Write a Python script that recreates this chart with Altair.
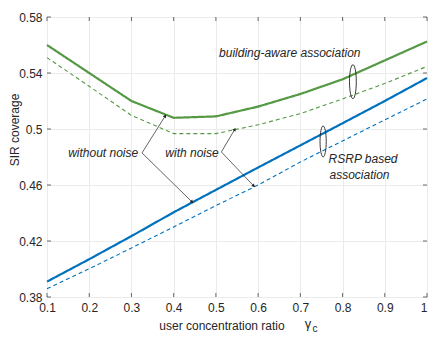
import math
import altair as alt
import pandas as pd

# ---- data ----
gamma_c = [0.1, 0.2, 0.3, 0.4, 0.5, 0.6, 0.7, 0.8, 0.9, 1.0]
bldg_no_noise = [0.560, 0.540, 0.520, 0.508, 0.509, 0.516, 0.525, 0.5355, 0.549, 0.5625]
bldg_noise = [0.551, 0.5305, 0.5097, 0.4967, 0.4967, 0.503, 0.511, 0.5215, 0.5325, 0.5447]
rsrp_no_noise = [0.391, 0.407, 0.4235, 0.4405, 0.4565, 0.4725, 0.4883, 0.5041, 0.520, 0.5364]
rsrp_noise = [0.3859, 0.4002, 0.415, 0.430, 0.4453, 0.460, 0.4764, 0.4915, 0.5065, 0.5215]

x_ticks = [0.1, 0.2, 0.3, 0.4, 0.5, 0.6, 0.7, 0.8, 0.9, 1.0]
y_ticks = [0.38, 0.42, 0.46, 0.5, 0.54, 0.58]

series_names = ["bldg_solid", "bldg_dash", "rsrp_solid", "rsrp_dash"]
series_vals = [bldg_no_noise, bldg_noise, rsrp_no_noise, rsrp_noise]
series_color = ["#559944", "#559944", "#0072BD", "#0072BD"]
series_dash = ["solid", "dash", "solid", "dash"]

rows = []
for name, vals, dash in zip(series_names, series_vals, series_dash):
    for xv, yv in zip(gamma_c, vals):
        rows.append({"x": xv, "y": yv, "series": name, "dash": dash})
lines_df = pd.DataFrame(rows)

# annotations (data coordinates)
arrow_vertex = [(0.325, 0.4829), (0.325, 0.4829), (0.513, 0.4836), (0.513, 0.4836)]
arrow_tip = [(0.380, 0.5093), (0.4436, 0.4479), (0.5446, 0.4997), (0.5896, 0.4593)]

texts = ["building-aware association", "without noise", "with noise", "RSRP based", "association"]
text_x = [0.675, 0.316, 0.5066, 0.767, 0.769]
text_y = [0.5545, 0.4831, 0.4831, 0.4788, 0.4674]
text_align = ["center", "right", "right", "left", "left"]

ellipse_x = [0.8245, 0.754]
ellipse_y = [0.5338, 0.4911]
ellipse_half_px = [17, 15.5]

# ---- build ----
W, H = 380, 280
xs = alt.Scale(domain=[0.1, 1.0], nice=False)
ys = alt.Scale(domain=[0.38, 0.58], nice=False, zero=False)
txt = "#262626"
font = "Liberation Sans"

x_axis = alt.Axis(values=x_ticks, format=".1~f", title=None, grid=True, ticks=False, domain=False,
                  labelPadding=5, labelFlush=False,
                  labelAlign={"condition": {"test": "datum.value >= 0.99", "value": "right"}, "value": "center"})
y_axis = alt.Axis(values=y_ticks, format=".2~f", title=None, grid=True, ticks=False, domain=False,
                  labelPadding=5)

lines = alt.Chart(lines_df).mark_line().encode(
    x=alt.X("x:Q", scale=xs, axis=x_axis),
    y=alt.Y("y:Q", scale=ys, axis=y_axis),
    color=alt.Color("series:N", scale=alt.Scale(domain=series_names, range=series_color), legend=None),
    strokeDash=alt.StrokeDash("dash:N", scale=alt.Scale(domain=["solid", "dash"], range=[[1, 0], [4, 3]]), legend=None),
    strokeWidth=alt.StrokeWidth("dash:N", scale=alt.Scale(domain=["solid", "dash"], range=[2.2, 1.1]), legend=None),
    detail="series:N",
)

px_per_x = W / 0.9
px_per_y = H / 0.2
arrow_rows = []
for (x1, y1), (x2, y2) in zip(arrow_vertex, arrow_tip):
    dx = (x2 - x1) * px_per_x
    dy = -(y2 - y1) * px_per_y
    ang = math.degrees(math.atan2(dx, -dy)) % 360
    arrow_rows.append({"x1": x1, "y1": y1, "x2": x2, "y2": y2, "ang": ang})
arrow_df = pd.DataFrame(arrow_rows)

arrows = alt.Chart(arrow_df).mark_rule(color="#222222", strokeWidth=0.7).encode(
    x=alt.X("x1:Q", scale=xs, axis=x_axis), y=alt.Y("y1:Q", scale=ys, axis=y_axis),
    x2="x2:Q", y2="y2:Q",
)
heads = alt.Chart(arrow_df).mark_point(shape="triangle-up", filled=True, color="#222222", size=14, opacity=1).encode(
    x=alt.X("x2:Q", scale=xs, axis=x_axis), y=alt.Y("y2:Q", scale=ys, axis=y_axis),
    angle=alt.Angle("ang:Q", scale=None),
)

ell_df = pd.DataFrame({"x": ellipse_x, "y": ellipse_y, "s": [(2 * h) ** 2 for h in ellipse_half_px]})
ellipses = alt.Chart(ell_df).mark_point(
    shape="M0,-1A0.2,1,0,1,1,0,1A0.2,1,0,1,1,0,-1Z", filled=False, color="#222222",
    strokeWidth=0.9, opacity=1,
).encode(
    x=alt.X("x:Q", scale=xs, axis=x_axis), y=alt.Y("y:Q", scale=ys, axis=y_axis),
    size=alt.Size("s:Q", scale=None, legend=None),
)

text_df = pd.DataFrame({"t": texts, "x": text_x, "y": text_y, "a": text_align})
text_layers = []
for al in ["center", "right", "left"]:
    sub = text_df[text_df["a"] == al]
    text_layers.append(
        alt.Chart(sub).mark_text(align=al, baseline="middle", fontSize=12, fontStyle="italic",
                                 font=font, color=txt).encode(
            x=alt.X("x:Q", scale=xs, axis=x_axis), y=alt.Y("y:Q", scale=ys, axis=y_axis), text="t:N")
    )

# inward ticks on all four sides
xt_df = pd.DataFrame({"v": x_ticks})
yt_df = pd.DataFrame({"v": y_ticks})
tick_style = dict(color="#444444", strokeWidth=0.8)
tb = alt.Chart(xt_df).mark_rule(**tick_style).encode(x=alt.X("v:Q", scale=xs, axis=x_axis), y=alt.value(H), y2=alt.value(H - 4))
tt = alt.Chart(xt_df).mark_rule(**tick_style).encode(x=alt.X("v:Q", scale=xs, axis=x_axis), y=alt.value(0), y2=alt.value(4))
tl = alt.Chart(yt_df).mark_rule(**tick_style).encode(y=alt.Y("v:Q", scale=ys, axis=y_axis), x=alt.value(0), x2=alt.value(4))
tr = alt.Chart(yt_df).mark_rule(**tick_style).encode(y=alt.Y("v:Q", scale=ys, axis=y_axis), x=alt.value(W), x2=alt.value(W - 4))

# axis titles (positions relative to the plot's top-left corner)
title_df = pd.DataFrame({"t": ["user concentration ratio"]})
xtitle = alt.Chart(title_df).mark_text(fontSize=12, font=font, color=txt, align="center", baseline="alphabetic").encode(
    x=alt.value(175), y=alt.value(313), text="t:N")
g_df = pd.DataFrame({"t": ["γ"]})
gam = alt.Chart(g_df).mark_text(fontSize=13, font=font, color=txt, align="center", baseline="alphabetic").encode(
    x=alt.value(261), y=alt.value(311), text="t:N")
c_df = pd.DataFrame({"t": ["c"]})
sub_c = alt.Chart(c_df).mark_text(fontSize=10, font=font, color=txt, align="center", baseline="alphabetic").encode(
    x=alt.value(268), y=alt.value(314.5), text="t:N")
yt_title_df = pd.DataFrame({"t": ["SIR coverage"]})
ytitle = alt.Chart(yt_title_df).mark_text(fontSize=12, font=font, color=txt, align="center", baseline="middle", angle=270).encode(
    x=alt.value(-32), y=alt.value(113), text="t:N")

chart = alt.layer(
    lines, tb, tt, tl, tr, arrows, heads, ellipses, *text_layers, xtitle, gam, sub_c, ytitle
).properties(
    width=W, height=H,
    padding={"left": 39, "top": 9, "right": 1, "bottom": 35},
    autosize=alt.AutoSizeParams(type="none"),
).configure_view(
    stroke="#8a8a8a", strokeWidth=1
).configure_axis(
    labelFont=font, labelFontSize=12, labelColor=txt, gridColor="#ebebeb", gridWidth=1,
)

chart.save("out.html", embed_options={"renderer": "svg", "actions": False})
